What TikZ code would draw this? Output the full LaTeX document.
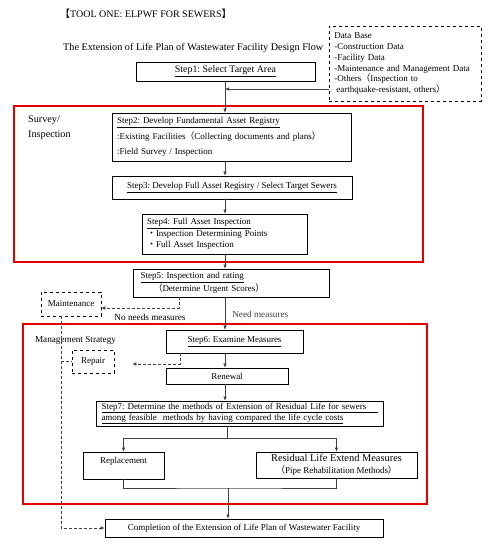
\documentclass[tikz,border=0pt]{standalone}
\usepackage{fontspec}
\setmainfont{Liberation Serif}
\newfontfamily\cjk{Noto Sans CJK SC}
\usetikzlibrary{arrows.meta,positioning,calc}
\frenchspacing

\begin{document}
\begin{tikzpicture}[
  x=1pt, y=-1pt,
  stepbox/.style={draw,line width=0.7pt,inner sep=0pt,font=\fontsize{9}{11}\selectfont},
  dashbox/.style={stepbox,dashed,line width=0.6pt},
  redframe/.style={draw=red!90!black,line width=2pt},
  link/.style={line width=0.6pt,black!75},
  arr/.style={link,-{Latex[length=4pt,width=3.5pt]}},
  dasharr/.style={arr,densely dashed},
  lbl/.style={inner sep=0pt,font=\fontsize{9.2}{11}\selectfont}
]
\useasboundingbox (0,0) rectangle (493,557);

% Group frames
\draw[redframe] (14,106) rectangle (423,262);
\draw[redframe] (23,324) rectangle (427,504);

% Headings
\node[lbl, anchor=west, font=\fontsize{10}{12}\selectfont] (title) at (60,14)
  {{\cjk 【}TOOL ONE: ELPWF FOR SEWERS{\cjk 】}};
\node[lbl, anchor=west, font=\fontsize{10.2}{12}\selectfont] (subtitle) at (63,48)
  {The Extension of Life Plan of Wastewater Facility Design Flow};

% Data base
\node[dashbox, anchor=north west, minimum width=152pt, minimum height=75pt,
      align=left, text width=142pt, inner xsep=5pt,
      font=\fontsize{9}{10.8}\selectfont] (db) at (329,26)
  {Data Base\\-Construction Data\\-Facility Data\\-Maintenance and Management Data\\
   -Others{\cjk （}Inspection to\\\hspace*{2pt}earthquake-resistant, others{\cjk ）}};

% Survey / Inspection
\node[stepbox, minimum width=179pt, minimum height=19pt,
      font=\fontsize{9.9}{12}\selectfont] (step1) at (225.5,71.5)
  {\underline{Step1: Select Target Area}};
\node[stepbox, minimum width=239pt, minimum height=48pt, align=left,
      text width=229pt, font=\fontsize{9}{15.5}\selectfont] (step2) at (231.5,137)
  {\underline{Step2: Develop Fundamental Asset Registry}\\
   :Existing Facilities{\cjk （}Collecting documents and plans{\cjk ）}\\
   :Field Survey / Inspection};
\node[stepbox, minimum width=240pt, minimum height=23pt] (step3) at (232,187.5)
  {\underline{Step3: Develop Full Asset Registry / Select Target Sewers}};
\node[stepbox, minimum width=165pt, minimum height=40pt, align=left,
      text width=155pt, font=\fontsize{9}{11.5}\selectfont] (step4) at (224.5,234)
  {\underline{Step4: Full Asset Inspection}\\
   {\cjk ・}Inspection Determining Points\\
   {\cjk ・}Full Asset Inspection};
\node[lbl, anchor=north west, align=left, font=\fontsize{10.2}{15}\selectfont] (survey) at (28,116)
  {Survey/\\Inspection};

% Rating
\node[stepbox, minimum width=196pt, minimum height=28pt, align=left,
      text width=181pt, font=\fontsize{9}{11}\selectfont] (step5) at (231,283)
  {\underline{Step5: Inspection and rating}\\
   \hspace*{13pt}{\cjk （}Determine Urgent Scores{\cjk ）}};
\node[dashbox, minimum width=60pt, minimum height=24pt] (maint) at (71,304) {Maintenance};

% Management strategy
\node[lbl] (strategy) at (75.5,340) {Management Strategy};
\node[stepbox, minimum width=137pt, minimum height=23pt] (step6) at (234.5,341.5)
  {\underline{Step6: Examine Measures}};
\node[dashbox, minimum width=42pt, minimum height=23pt] (repair) at (93,361.5) {Repair};
\node[stepbox, minimum width=122pt, minimum height=16pt] (renew) at (227,376) {Renewal};
\node[stepbox, minimum width=287pt, minimum height=25pt, align=left,
      text width=276pt, font=\fontsize{9}{10}\selectfont] (step7) at (239.5,413.5)
  {\underline{\makebox[276pt][s]{Step7: Determine the methods of Extension of Residual Life for sewers}}\\
   \underline{among feasible\ \ methods by having compared the life cycle costs}};
\node[stepbox, minimum width=81pt, minimum height=27pt, align=center,
      font=\fontsize{9}{11}\selectfont] (replace) at (123.5,465.5)
  {Replacement\\\mbox{}};
\node[stepbox, minimum width=161pt, minimum height=26pt, align=center,
      font=\fontsize{10.4}{12}\selectfont] (resid) at (336.5,465)
  {Residual Life Extend Measures\\
   {\fontsize{9}{10}\selectfont{\cjk （}Pipe Rehabilitation Methods{\cjk ）}}};
\node[stepbox, minimum width=278pt, minimum height=18pt] (done) at (244,528)
  {Completion of the Extension of Life Plan of Wastewater Facility};

% Helper points
\coordinate (spine) at (225,0);
\coordinate (dbjoin) at (225,89);
\coordinate (nomeas) at (179,308);
\coordinate (repj) at (180,364);
\coordinate (mline) at (61,0);
\coordinate (split) at (227,438);
\coordinate (merge) at (228,488);

% Arrows
\draw[arr] (step1.south -| spine) -- (spine |- step2.north);
\draw[arr] (db.west |- dbjoin) -- (dbjoin);
\draw[arr] (spine |- step2.south) -- (spine |- step3.north);
\draw[arr] (spine |- step3.south) -- (spine |- step4.north);
\draw[arr] (spine |- step4.south) -- (spine |- step5.north);
\draw[arr] (spine |- step5.south) --
  node[lbl, right, xshift=7pt, yshift=-1pt] {Need measures} (spine |- step6.north);
\draw[dasharr] (step5.south -| nomeas) -- (nomeas) -- (maint.east |- nomeas);
\node[lbl] (nolbl) at (150,317) {No needs measures};
\draw[arr] (spine |- step6.south) -- (spine |- renew.north);
\draw[dasharr] (step6.south -| repj) -- (repj) -- ($(repair.east |- repj)+(18,0)$);
\draw[arr] (spine |- renew.south) -- (spine |- step7.north);
\draw[link] (step7.south -| split) -- (split);
\draw[arr] (split) -| (replace.north);
\draw[arr] (split) -| (resid.north);
\draw[link] (replace.south) |- (merge) -| (resid.south);
\draw[arr] (merge) -- (merge |- done.north);
\draw[dasharr] (mline |- maint.south) |- (done.west);
\draw[link, densely dashed] (mline |- repair.west) -- (repair.west);

\end{tikzpicture}
\end{document}
